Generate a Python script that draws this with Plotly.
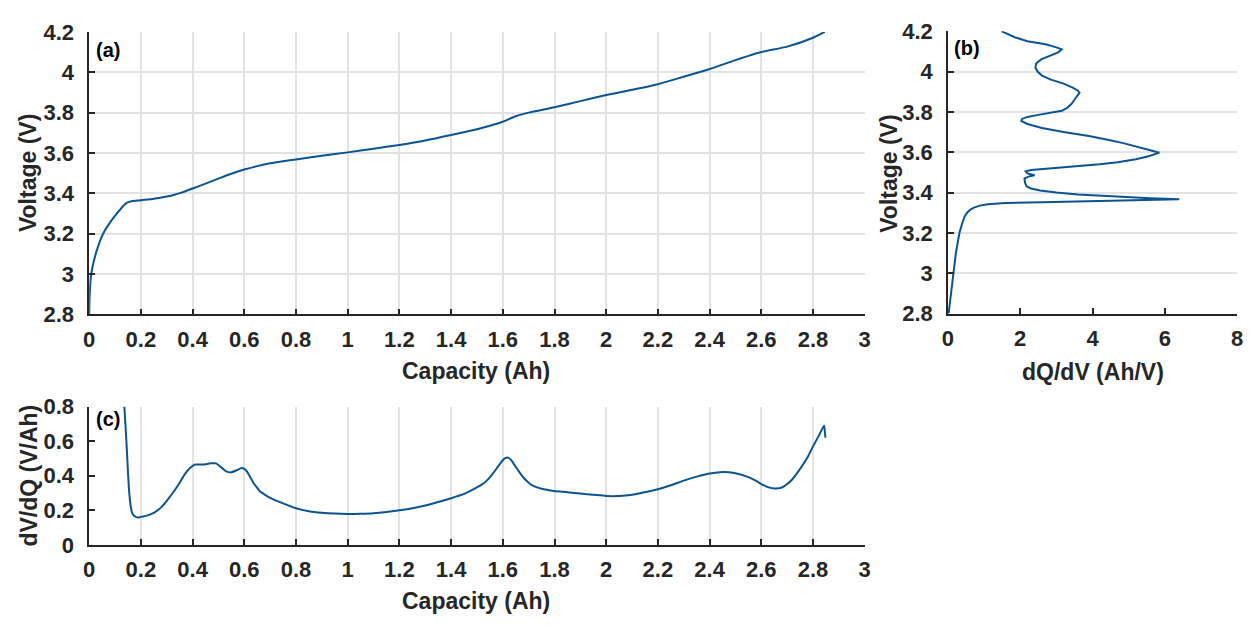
import plotly.graph_objects as go

# ---- data ----
cap_a = [0, 0.002, 0.006, 0.012, 0.02, 0.03, 0.045, 0.06, 0.075, 0.09, 0.105, 0.12, 0.135, 0.145,
         0.16, 0.2, 0.25, 0.3, 0.33, 0.36, 0.4, 0.45, 0.5, 0.55, 0.6, 0.65, 0.7, 0.75, 0.8, 0.9, 1.0,
         1.1, 1.2, 1.3, 1.4, 1.5, 1.55, 1.6, 1.65, 1.7, 1.8, 1.9, 2.0, 2.1, 2.2, 2.3, 2.4, 2.5, 2.6,
         2.7, 2.8, 2.845]
volt_a = [2.8, 2.9, 2.98, 3.03, 3.075, 3.12, 3.175, 3.215, 3.245, 3.272, 3.297, 3.32, 3.342, 3.353,
          3.36, 3.366, 3.373, 3.384, 3.393, 3.405, 3.424, 3.448, 3.473, 3.497, 3.518, 3.535, 3.549,
          3.559, 3.568, 3.586, 3.603, 3.621, 3.64, 3.662, 3.689, 3.718, 3.735, 3.755, 3.782, 3.80,
          3.827, 3.857, 3.887, 3.913, 3.941, 3.978, 4.016, 4.06, 4.10, 4.127, 4.171, 4.2]

volt_b = [2.8, 2.85, 2.9, 2.95, 3.0, 3.05, 3.1, 3.15, 3.2, 3.25, 3.28, 3.30, 3.315, 3.325, 3.335, 3.342,
          3.348, 3.352, 3.356, 3.360, 3.363, 3.366, 3.372, 3.38, 3.39, 3.40, 3.41, 3.42, 3.43, 3.45, 3.47,
          3.48, 3.486, 3.495, 3.505, 3.512, 3.52, 3.53, 3.54, 3.55, 3.565, 3.58, 3.59, 3.598, 3.605, 3.615,
          3.63, 3.645, 3.66, 3.68, 3.70, 3.72, 3.74, 3.755, 3.765, 3.775, 3.785, 3.795, 3.805, 3.82, 3.84,
          3.86, 3.88, 3.895, 3.905, 3.92, 3.94, 3.96, 3.98, 4.0, 4.02, 4.04, 4.06, 4.08, 4.095, 4.11, 4.12,
          4.135, 4.15, 4.17, 4.19, 4.2]
dqdv_b = [0.02, 0.05, 0.08, 0.11, 0.14, 0.18, 0.22, 0.27, 0.32, 0.40, 0.46, 0.53, 0.62, 0.72, 0.88, 1.1,
          1.6, 2.6, 3.8, 5.0, 6.0, 6.4, 5.6, 4.6, 3.6, 3.0, 2.55, 2.3, 2.18, 2.13, 2.12,
          2.25, 2.4, 2.2, 2.15, 2.3, 2.9, 3.6, 4.2, 4.7, 5.2, 5.55, 5.75, 5.85, 5.7, 5.5,
          5.2, 4.85, 4.45, 3.9, 3.2, 2.6, 2.2, 2.03, 2.05, 2.2, 2.5, 2.9, 3.15, 3.3, 3.42,
          3.5, 3.58, 3.64, 3.6, 3.45, 3.2, 2.85, 2.6, 2.48, 2.42, 2.44, 2.58, 2.85, 3.05, 3.15, 3.0,
          2.7, 2.2, 1.85, 1.6, 1.48]

cap_c = [0.135, 0.14, 0.145, 0.15, 0.155, 0.16, 0.165, 0.17, 0.18, 0.19, 0.2, 0.22, 0.25, 0.28, 0.3,
         0.33, 0.35, 0.37, 0.39, 0.41, 0.44, 0.47, 0.49, 0.51, 0.53, 0.55, 0.57, 0.59, 0.6, 0.61, 0.62,
         0.635, 0.65, 0.66, 0.68, 0.7, 0.75, 0.8, 0.85, 0.9, 0.95, 1.0, 1.05, 1.1, 1.15, 1.2, 1.25, 1.3,
         1.35, 1.4, 1.45, 1.5, 1.52, 1.54, 1.56, 1.58, 1.6, 1.61, 1.62, 1.63, 1.64, 1.66, 1.68, 1.7,
         1.72, 1.75, 1.8, 1.85, 1.9, 1.95, 2.0, 2.05, 2.1, 2.15, 2.2, 2.25, 2.3, 2.35, 2.4, 2.45, 2.5,
         2.55, 2.58, 2.6, 2.62, 2.65, 2.68, 2.7, 2.72, 2.75, 2.78, 2.8, 2.82, 2.835, 2.843, 2.846, 2.848]
dvdq_c = [0.82, 0.7, 0.57, 0.42, 0.3, 0.23, 0.19, 0.175, 0.162, 0.158, 0.163, 0.168, 0.185, 0.22, 0.255,
          0.315, 0.36, 0.41, 0.445, 0.465, 0.465, 0.472, 0.472, 0.45, 0.425, 0.42, 0.432, 0.445, 0.44,
          0.425, 0.4, 0.36, 0.33, 0.31, 0.29, 0.272, 0.24, 0.212, 0.195, 0.186, 0.181, 0.179, 0.18,
          0.183, 0.19, 0.2, 0.212, 0.228, 0.248, 0.27, 0.295, 0.333, 0.35, 0.375, 0.41, 0.45, 0.49,
          0.502, 0.505, 0.495, 0.475, 0.43, 0.39, 0.36, 0.34, 0.325, 0.312, 0.305, 0.297, 0.29, 0.283,
          0.283, 0.29, 0.305, 0.322, 0.345, 0.372, 0.395, 0.413, 0.422, 0.415, 0.392, 0.37, 0.352,
          0.337, 0.327, 0.332, 0.352, 0.38, 0.44, 0.51, 0.57, 0.625, 0.67, 0.69, 0.65, 0.62]

cap_ticks = [0, 0.2, 0.4, 0.6, 0.8, 1, 1.2, 1.4, 1.6, 1.8, 2, 2.2, 2.4, 2.6, 2.8, 3]
cap_ticktext = ["0", "0.2", "0.4", "0.6", "0.8", "1", "1.2", "1.4", "1.6", "1.8", "2", "2.2", "2.4",
                "2.6", "2.8", "3"]
volt_ticks = [2.8, 3.0, 3.2, 3.4, 3.6, 3.8, 4.0, 4.2]
volt_ticktext = ["2.8", "3", "3.2", "3.4", "3.6", "3.8", "4", "4.2"]
dqdv_ticks = [0, 2, 4, 6, 8]
dvdq_ticks = [0, 0.2, 0.4, 0.6, 0.8]
dvdq_ticktext = ["0", "0.2", "0.4", "0.6", "0.8"]

# ---- style ----
W, H = 1256, 628
LINE = "#0b5491"
TXT = "#262626"
GRID = "#e3e3e3"
FONT = "Liberation Sans, Arial, sans-serif"
TICKFONT = dict(family=FONT, size=22, color=TXT, weight="bold")

def px(xp):
    return xp / W

def py(yp):
    return 1 - yp / H

fig = go.Figure()
fig.add_trace(go.Scatter(x=cap_a, y=volt_a, mode="lines",
                         line=dict(color=LINE, width=2, shape="spline", smoothing=0.6),
                         xaxis="x", yaxis="y", showlegend=False))
fig.add_trace(go.Scatter(x=dqdv_b, y=volt_b, mode="lines", line=dict(color=LINE, width=2),
                         xaxis="x2", yaxis="y2", showlegend=False))
fig.add_trace(go.Scatter(x=cap_c, y=dvdq_c, mode="lines",
                         line=dict(color=LINE, width=2, shape="spline", smoothing=0.6),
                         xaxis="x3", yaxis="y3", showlegend=False))

common = dict(showline=True, linecolor=TXT, linewidth=1.5, ticks="inside", ticklen=6,
              tickcolor=TXT, tickwidth=1.5, tickfont=TICKFONT, zeroline=False,
              gridcolor=GRID, gridwidth=1.5, fixedrange=True)
xcommon = dict(common, ticklabelstandoff=4)
ycommon = dict(common, ticklabelstandoff=9)

fig.update_layout(
    width=W, height=H, margin=dict(l=0, r=0, t=0, b=0),
    plot_bgcolor="white", paper_bgcolor="white",
    xaxis=dict(domain=[px(84), px(867)], range=[0, 3], tickvals=cap_ticks, ticktext=cap_ticktext,
               anchor="y", showgrid=True, **xcommon),
    yaxis=dict(domain=[py(315), py(20.7)], range=[2.8, 4.2], tickvals=volt_ticks,
               ticktext=volt_ticktext, anchor="x", showgrid=True, **ycommon),
    xaxis2=dict(domain=[px(951), px(1243)], range=[0, 8], tickvals=dqdv_ticks, anchor="y2",
                showgrid=False, **xcommon),
    yaxis2=dict(domain=[py(314), py(20)], range=[2.8, 4.2], tickvals=volt_ticks,
                ticktext=volt_ticktext, anchor="x2", showgrid=True, **ycommon),
    xaxis3=dict(domain=[px(84), px(867)], range=[0, 3], tickvals=cap_ticks, ticktext=cap_ticktext,
                anchor="y3", showgrid=True, **xcommon),
    yaxis3=dict(domain=[py(555), py(411)], range=[0, 0.8], tickvals=dvdq_ticks,
                ticktext=dvdq_ticktext, anchor="x3", showgrid=False, **ycommon),
)

TITLEFONT = dict(family=FONT, size=23, color=TXT, weight="bold")
LABELFONT = dict(family=FONT, size=20, color="black", weight="bold")
ann = [
    dict(text="Capacity (Ah)", x=px(475), y=py(374), textangle=0, font=TITLEFONT),
    dict(text="Capacity (Ah)", x=px(475), y=py(613), textangle=0, font=TITLEFONT),
    dict(text="dQ/dV (Ah/V)", x=px(1097), y=py(375), textangle=0, font=TITLEFONT),
    dict(text="Voltage (V)", x=px(23), y=py(168), textangle=-90, font=TITLEFONT),
    dict(text="Voltage (V)", x=px(892), y=py(168), textangle=-90, font=TITLEFONT),
    dict(text="dV/dQ (V/Ah)", x=px(23), y=py(483), textangle=-90, font=TITLEFONT),
    dict(text="(a)", x=px(103), y=py(40), textangle=0, font=LABELFONT),
    dict(text="(b)", x=px(970), y=py(38), textangle=0, font=LABELFONT),
    dict(text="(c)", x=px(103), y=py(424), textangle=0, font=LABELFONT),
]
for a in ann:
    fig.add_annotation(xref="paper", yref="paper", showarrow=False, xanchor="center",
                       yanchor="middle", **a)

fig.write_html("out.html")
